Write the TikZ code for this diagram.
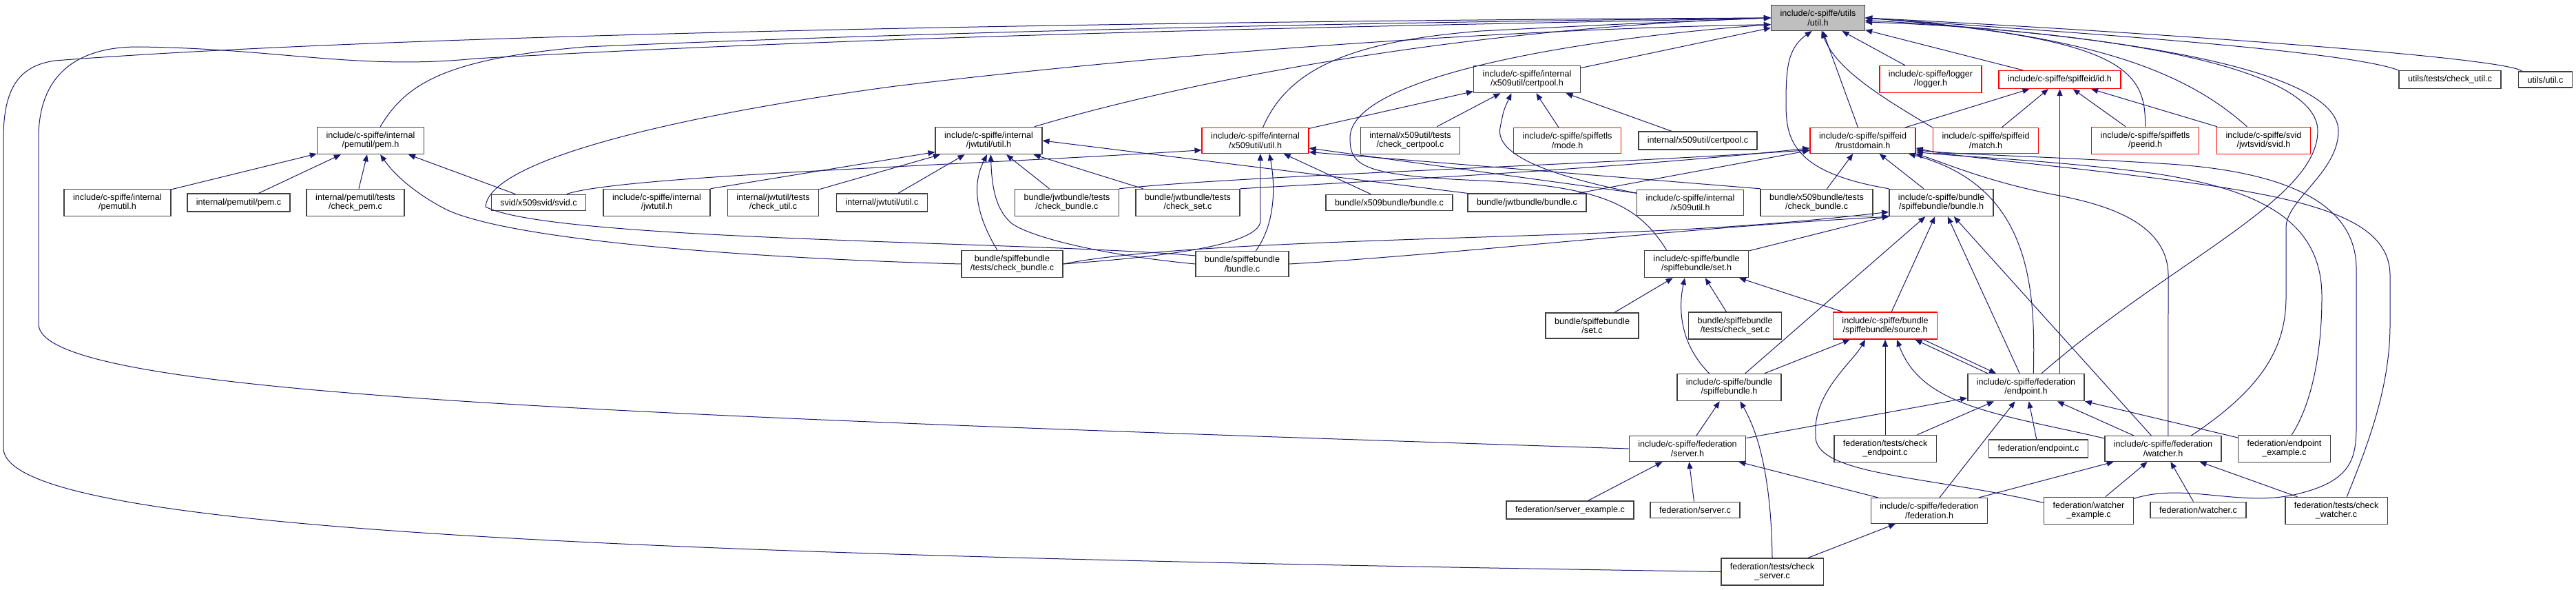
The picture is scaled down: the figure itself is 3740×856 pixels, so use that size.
\documentclass[tikz,border=0pt]{standalone}
\usepackage{fontspec}
\setmainfont{Liberation Sans}
\usetikzlibrary{arrows.meta}
\definecolor{edgeblue}{RGB}{25,25,112}
\tikzset{
  file/.style={draw=black!75, line width=0.75pt, fill=white, align=center,
    inner xsep=6.5pt, inner ysep=3.5pt, font=\fontsize{6.3}{6.65}\selectfont},
  redfile/.style={file, draw=red},
  rootfile/.style={file, fill=black!25},
  dep/.style={draw=edgeblue, line width=0.5pt, -{Triangle[length=5pt,width=4pt]}},
}

\begin{document}
\begin{tikzpicture}[x=0.5pt, y=-0.5pt]
        \useasboundingbox (0,0) rectangle (3740,856);
        \node[rootfile] (U) at (2639.5,26) {include/c-spiffe/utils\\/util.h};
        \node[file] (CP) at (2217,115) {include/c-spiffe/internal\\/x509util/certpool.h};
        \node[redfile] (LOG) at (2803,115) {include/c-spiffe/logger\\/logger.h};
        \node[redfile] (ID) at (2990.5,115.5) {include/c-spiffe/spiffeid/id.h};
        \node[file] (CU) at (3557,115.5) {utils/tests/check\_util.c};
        \node[file] (UC) at (3695.5,115.5) {utils/util.c};
        \node[file] (PEM) at (538,204) {include/c-spiffe/internal\\/pemutil/pem.h};
        \node[file] (JWU) at (1435.5,204) {include/c-spiffe/internal\\/jwtutil/util.h};
        \node[redfile] (XU) at (1822.5,204) {include/c-spiffe/internal\\/x509util/util.h};
        \node[file] (CCP) at (2047.5,204) {internal/x509util/tests\\/check\_certpool.c};
        \node[redfile] (MODE) at (2275.5,204) {include/c-spiffe/spiffetls\\/mode.h};
        \node[file] (CPC) at (2465,204) {internal/x509util/certpool.c};
        \node[redfile] (TD) at (2704.5,204) {include/c-spiffe/spiffeid\\/trustdomain.h};
        \node[redfile] (MATCH) at (2883,204) {include/c-spiffe/spiffeid\\/match.h};
        \node[redfile] (PEER) at (3114.5,204) {include/c-spiffe/spiffetls\\/peerid.h};
        \node[redfile] (JSVID) at (3286.5,204) {include/c-spiffe/svid\\/jwtsvid/svid.h};
        \node[file] (PEMH) at (170.5,294) {include/c-spiffe/internal\\/pemutil.h};
        \node[file] (PEMC) at (346.5,294) {internal/pemutil/pem.c};
        \node[file] (CPEM) at (516,294) {internal/pemutil/tests\\/check\_pem.c};
        \node[file] (XSVIDC) at (782,294) {svid/x509svid/svid.c};
        \node[file] (JWTH) at (953.5,294) {include/c-spiffe/internal\\/jwtutil.h};
        \node[file] (JCU) at (1122.5,294) {internal/jwtutil/tests\\/check\_util.c};
        \node[file] (JUC) at (1280.5,294) {internal/jwtutil/util.c};
        \node[file] (JBCB) at (1549,294) {bundle/jwtbundle/tests\\/check\_bundle.c};
        \node[file] (JBCS) at (1724.5,294) {bundle/jwtbundle/tests\\/check\_set.c};
        \node[file] (XBC) at (2017,294) {bundle/x509bundle/bundle.c};
        \node[file] (JBC) at (2217,294) {bundle/jwtbundle/bundle.c};
        \node[file] (XUH) at (2454,294) {include/c-spiffe/internal\\/x509util.h};
        \node[file] (XBCB) at (2637.5,294) {bundle/x509bundle/tests\\/check\_bundle.c};
        \node[file] (SBH) at (2818.5,294) {include/c-spiffe/bundle\\/spiffebundle/bundle.h};
        \node[file] (SBCB) at (1469.5,383) {bundle/spiffebundle\\/tests/check\_bundle.c};
        \node[file] (SBC) at (1803.5,383) {bundle/spiffebundle\\/bundle.c};
        \node[file] (SET) at (2463,383) {include/c-spiffe/bundle\\/spiffebundle/set.h};
        \node[file] (SETC) at (2311.5,472.5) {bundle/spiffebundle\\/set.c};
        \node[file] (SBCS) at (2519,472.5) {bundle/spiffebundle\\/tests/check\_set.c};
        \node[redfile] (SRC) at (2737,472.5) {include/c-spiffe/bundle\\/spiffebundle/source.h};
        \node[file] (SBUN) at (2510.5,562) {include/c-spiffe/bundle\\/spiffebundle.h};
        \node[file] (EP) at (2941.5,562) {include/c-spiffe/federation\\/endpoint.h};
        \node[file] (SRV) at (2450,651) {include/c-spiffe/federation\\/server.h};
        \node[file] (CEP) at (2737,651) {federation/tests/check\\\_endpoint.c};
        \node[file] (EPC) at (2959.5,651) {federation/endpoint.c};
        \node[file] (W) at (3140.5,651) {include/c-spiffe/federation\\/watcher.h};
        \node[file] (EPEX) at (3316.5,651) {federation/endpoint\\\_example.c};
        \node[file] (SRVEX) at (2279.5,740) {federation/server\_example.c};
        \node[file] (SRVC) at (2461,740) {federation/server.c};
        \node[file] (FED) at (2801,741) {include/c-spiffe/federation\\/federation.h};
        \node[file] (WEX) at (3032.5,741) {federation/watcher\\\_example.c};
        \node[file] (WC) at (3191.5,740) {federation/watcher.c};
        \node[file] (CW) at (3392,741) {federation/tests/check\\\_watcher.c};
        \node[file] (CS) at (2573,829.5) {federation/tests/check\\\_server.c};

        % into util.h
        \draw[dep] (CS.west) .. controls (900,805) and (5,770) .. (5,650) -- (5,200)
          .. controls (5,125) and (30,95) .. (80,88) .. controls (700,40) and (2100,28) .. (U.west);
        \draw[dep] (SRV.west) .. controls (800,600) and (56,570) .. (56,470) -- (56,200)
          .. controls (56,110) and (110,68) .. (200,68) .. controls (400,70) and (520,102) .. (690,85)
          .. controls (1400,45) and (2200,35) .. (U.west);
        \draw[dep] (PEM.55) .. controls (590,120) and (650,85) .. (850,68)
          .. controls (1500,40) and (2200,30) .. (U.west);
        \draw[dep] (JWU.17) .. controls (1750,110) and (2150,40) .. (U.west);
        \draw[dep] (XU.60) .. controls (1870,100) and (1960,60) .. (2150,45) .. controls (2350,35) .. (U.west);
        \draw[dep] (SBC.170) .. controls (1500,350) and (800,350) .. (705,300)
          .. controls (710,230) and (1000,165) .. (1300,125) .. controls (1800,65) and (2300,40) .. (U.-172);
        \draw[dep] (SET.155) .. controls (2380,300) and (2330,270) .. (2150,262)
          .. controls (1975,255) and (1960,240) .. (1960,200) .. controls (1960,110) and (2300,55) .. (U.-172);
        \draw[dep] (CP) -- (U);
        \draw[dep] (LOG) -- (U);
        \draw[dep] (ID) -- (U);
        \draw[dep] (TD) -- (U);
        \draw[dep] (MATCH.north west) .. controls (2730,140) and (2665,100) .. (U.-75);
        \draw[dep] (SBH.north west) .. controls (2600,250) and (2593,200) .. (2593,150)
          .. controls (2593,100) and (2595,70) .. (U.-115);
        \draw[dep] (PEER.north) .. controls (3116,100) and (3080,55) .. (U.east);
        \draw[dep] (JSVID.140) .. controls (3180,110) and (3050,50) .. (U.east);
        \draw[dep] (CU.north west) .. controls (3400,70) and (2900,40) .. (U.east);
        \draw[dep] (UC.160) .. controls (3630,80) and (3000,40) .. (U.east);
        \draw[dep] (EP.42) .. controls (3150,380) and (3365,290) .. (3365,190)
          .. controls (3365,80) and (2950,40) .. (U.-5);
        \draw[dep] (W.25) .. controls (3290,560) and (3319,500) .. (3319,430) -- (3319,330)
          .. controls (3319,290) and (3395,250) .. (3395,190) .. controls (3395,90) and (3000,45) .. (U.-3);

        % into id.h and trustdomain.h
        \draw[dep] (TD) -- (ID);
        \draw[dep] (MATCH) -- (ID);
        \draw[dep] (PEER) -- (ID);
        \draw[dep] (JSVID) -- (ID);
        \draw[dep] (EP.north -| ID.south) -- (ID.south);
        \draw[dep] (XBCB) -- (TD);
        \draw[dep] (SBH) -- (TD);
        \draw[dep] (JBC) -- (TD);
        \draw[dep] (JBCB.north east) .. controls (1800,255) and (2300,240) .. (TD.-170);
        \draw[dep] (JBCS.north east) .. controls (1950,265) and (2350,245) .. (TD.-172);
        \draw[dep] (EP.62) .. controls (2955,420) and (2950,270) .. (TD.-16);
        \draw[dep] (W.69) -- (3148,400) .. controls (3148,320) and (3050,295) .. (2980,282)
          .. controls (2880,262) and (2820,235) .. (TD.-14);
        \draw[dep] (EPEX.62) .. controls (3360,580) and (3371,500) .. (3371,430)
          .. controls (3371,320) and (3280,275) .. (3130,252) .. controls (2980,232) and (2850,228) .. (TD.-12);
        \draw[dep] (WEX.15) .. controls (3170,700) and (3250,735) .. (3330,718)
          .. controls (3410,700) and (3421,670) .. (3421,620) -- (3421,390)
          .. controls (3421,300) and (3330,250) .. (3150,238) .. controls (2960,226) and (2850,225) .. (TD.-10);
        \draw[dep] (CW.53) .. controls (3440,640) and (3470,560) .. (3470,470) -- (3470,400)
          .. controls (3470,330) and (3390,295) .. (3200,268) .. controls (3000,240) and (2850,230) .. (TD.-8);

        % into certpool.h and the internal headers
        \draw[dep] (XU) -- (CP);
        \draw[dep] (CCP) -- (CP);
        \draw[dep] (MODE) -- (CP);
        \draw[dep] (CPC) -- (CP);
        \draw[dep] (XUH.170) .. controls (2250,255) and (2170,225) .. (2178,185) .. controls (2183,160) .. (CP.-138);
        \draw[dep] (PEMH) -- (PEM);
        \draw[dep] (PEMC) -- (PEM);
        \draw[dep] (CPEM) -- (PEM);
        \draw[dep] (XSVIDC) -- (PEM);
        \draw[dep] (SBCB.west) .. controls (1100,375) and (750,350) .. (650,305)
          .. controls (600,280) and (570,250) .. (PEM.-55);
        \draw[dep] (JWTH.north east) -- (JWU.-168);
        \draw[dep] (JCU) -- (JWU);
        \draw[dep] (JUC) -- (JWU);
        \draw[dep] (JBCB) -- (JWU);
        \draw[dep] (JBCS) -- (JWU);
        \draw[dep] (JBC.north west) -- (JWU.east);
        \draw[dep] (SBCB.137) .. controls (1410,300) and (1415,260) .. (JWU.-97);
        \draw[dep] (SBC.west) .. controls (1600,370) and (1500,345) .. (1470,325)
          .. controls (1445,305) and (1440,270) .. (JWU.-82);
        \draw[dep] (XSVIDC.17) .. controls (900,255) and (1400,240) .. (XU.-170);
        \draw[dep] (XBC) -- (XU);
        \draw[dep] (XUH.170) -- (XU.-8);
        \draw[dep] (XBCB.north west) -- (XU.-12);
        \draw[dep] (SBCB.east) .. controls (1650,375) and (1830,360) .. (1830,320) -- (XU.-69);
        \draw[dep] (SBC.44) .. controls (1855,320) and (1850,260) .. (XU.-43);

        % into the bundle headers
        \draw[dep] (SBCB.east) .. controls (1700,352) and (2100,348) .. (2400,335)
          .. controls (2550,328) and (2650,318) .. (SBH.-170);
        \draw[dep] (SBC.east) .. controls (2100,370) and (2450,330) .. (SBH.-165);
        \draw[dep] (SET) -- (SBH);
        \draw[dep] (SBUN) -- (SBH);
        \draw[dep] (SRC) -- (SBH);
        \draw[dep] (EP) -- (SBH);
        \draw[dep] (W) -- (SBH);
        \draw[dep] (SETC) -- (SET);
        \draw[dep] (SBCS) -- (SET);
        \draw[dep] (SRC) -- (SET);
        \draw[dep] (SBUN.145) .. controls (2440,500) and (2436,450) .. (SET.-130);
        \draw[dep] (SBUN) -- (SRC);
        \draw[dep] (CEP) -- (SRC);
        \draw[dep] (EP.160) -- (SRC.-25);
        \draw[dep] (SRC.-20) -- (EP.155);
        \draw[dep] (W.170) .. controls (2900,600) and (2790,590) .. (SRC.-50);
        \draw[dep] (WEX.170) .. controls (2800,690) and (2630,690) .. (2636,630)
          .. controls (2632,570) and (2690,525) .. (SRC.-145);

        % federation
        \draw[dep] (SRV) -- (EP);
        \draw[dep] (CEP) -- (EP);
        \draw[dep] (FED) -- (EP);
        \draw[dep] (EPC) -- (EP);
        \draw[dep] (W) -- (EP);
        \draw[dep] (EPEX) -- (EP);
        \draw[dep] (FED) -- (W);
        \draw[dep] (WEX) -- (W);
        \draw[dep] (WC) -- (W);
        \draw[dep] (CW) -- (W);
        \draw[dep] (SRV) -- (SBUN);
        \draw[dep] (CS.north) .. controls (2572,720) and (2560,640) .. (SBUN.-52);
        \draw[dep] (SRVEX) -- (SRV);
        \draw[dep] (SRVC) -- (SRV);
        \draw[dep] (FED) -- (SRV);
        \draw[dep] (CS) -- (FED);
      \end{tikzpicture}
\end{document}
